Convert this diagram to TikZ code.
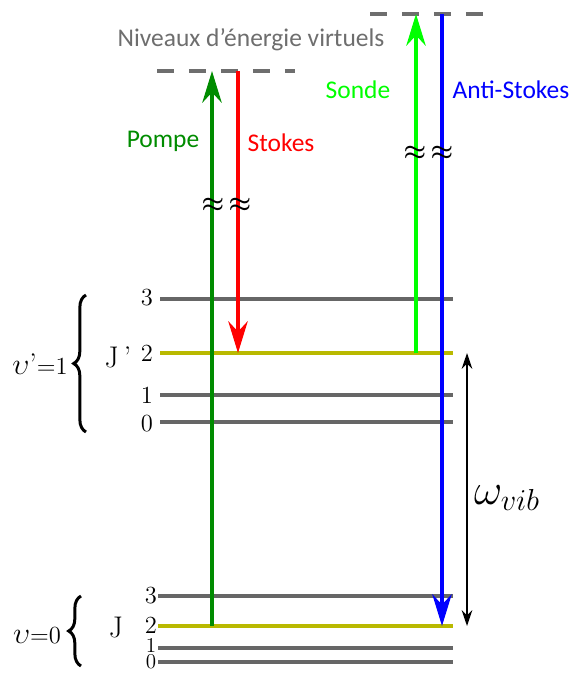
\documentclass[tikz,border=0pt]{standalone}
\usepackage{fontspec}
\setsansfont{Carlito}
\usetikzlibrary{arrows.meta,decorations.pathreplacing}
\definecolor{lvlgray}{RGB}{102,102,102}
\definecolor{lvlyellow}{RGB}{185,185,0}
\definecolor{pumpgreen}{RGB}{0,140,0}
\definecolor{probegreen}{RGB}{0,255,0}
\definecolor{vgray}{RGB}{110,110,110}
\tikzset{
  lvl/.style={line width=2.3pt, lvlgray},
  lvlhi/.style={line width=2.3pt, lvlyellow},
  virt/.style={line width=2.3pt, vgray, dash pattern=on 9.6pt off 8.6pt},
  beam/.style={line width=2.3pt, -{Stealth[length=18pt,width=11pt]}},
  lab/.style={font=\sffamily\fontsize{14.5}{16}\selectfont, inner sep=0pt},
  num/.style={font=\fontsize{14}{16}\selectfont, inner sep=0pt},
  smallnum/.style={font=\fontsize{12}{13}\selectfont, inner sep=0pt},
  brk/.style={font=\fontsize{13.5}{14}\selectfont\boldmath, inner sep=0pt},
  bigtxt/.style={inner sep=0pt, font=\fontsize{17}{19}\selectfont},
  curly/.style={decorate, decoration={brace, amplitude=7pt, aspect=0.5}, line width=1.7pt},
}
\begin{document}
\begin{tikzpicture}[x=0.02cm,y=-0.02cm]
\useasboundingbox (0,0) rectangle (571,673);
% level coordinates
\coordinate (u3a) at (160,299); \coordinate (u3b) at (453,299);
\coordinate (u2a) at (160,353); \coordinate (u2b) at (453,353);
\coordinate (u1a) at (160,395); \coordinate (u1b) at (453,395);
\coordinate (u0a) at (160,422); \coordinate (u0b) at (453,422);
\coordinate (l3a) at (158,596); \coordinate (l3b) at (453,596);
\coordinate (l2a) at (158,626); \coordinate (l2b) at (453,626);
\coordinate (l1a) at (158,648); \coordinate (l1b) at (453,648);
\coordinate (l0a) at (158,662); \coordinate (l0b) at (453,662);
\coordinate (v1a) at (157,71); \coordinate (v1b) at (295,71);
\coordinate (v2a) at (370,14); \coordinate (v2b) at (484,14);
% levels
\draw[lvl] (u3a) -- (u3b);
\draw[lvlhi] (u2a) -- (u2b);
\draw[lvl] (u1a) -- (u1b);
\draw[lvl] (u0a) -- (u0b);
\draw[lvl] (l3a) -- (l3b);
\draw[lvlhi] (l2a) -- (l2b);
\draw[lvl] (l1a) -- (l1b);
\draw[lvl] (l0a) -- (l0b);
\draw[virt] (v1a) -- (v1b);
\draw[virt] (v2a) -- (v2b);
% level labels
\node[num] (n3u) at (147,298) {3};
\node[num] (n2u) at (147,353) {2};
\node[num] (n1u) at (147,395) {1};
\node[num] (n0u) at (147,424) {0};
\node[num] (n3l) at (151,596) {3};
\node[num] (n2l) at (151,625) {2};
\node[smallnum] (n1l) at (151,645) {1};
\node[smallnum] (n0l) at (151,662) {0};
\node[bigtxt] (Jp) at (118,357) {J\,'};
\node[bigtxt] (J) at (116,628) {J};
\node[bigtxt] (vp) at (40,364) {$\upsilon$'{\fontsize{14}{15}\selectfont=1}};
\node[bigtxt] (v0) at (37,636) {$\upsilon${\fontsize{14}{15}\selectfont=0}};
% braces
\coordinate (bu1) at (86,432); \coordinate (bu2) at (86,295);
\coordinate (bl1) at (81,666); \coordinate (bl2) at (81,596);
\draw[curly] (bu1) -- (bu2);
\draw[curly] (bl1) -- (bl2);
% beams
\coordinate (pb) at (212,626); \coordinate (pt) at (212,71);
\coordinate (st) at (238,71); \coordinate (sb) at (238,353);
\coordinate (ob) at (416,353); \coordinate (ot) at (416,14);
\coordinate (at) at (442,14); \coordinate (ab) at (442,626);
\draw[beam, pumpgreen] (pb) -- (pt);
\draw[beam, red] (st) -- (sb);
\draw[beam, probegreen] (ob) -- (ot);
\draw[beam, blue] (at) -- (ab);
% vibration arrow
\coordinate (wt) at (467,353); \coordinate (wb) at (467,626);
\draw[line width=1pt, {Stealth[length=9pt,width=6pt]}-{Stealth[length=9pt,width=6pt]}] (wt) -- (wb);
\node[inner sep=0pt, font=\fontsize{23}{25}\selectfont] (w) at (507,498) {$\omega_{vib}$};
% breaks
\node[brk] (b1) at (213,205) {$\approx$};
\node[brk] (b2) at (240,205) {$\approx$};
\node[brk] (b3) at (415,153) {$\approx$};
\node[brk] (b4) at (442,153) {$\approx$};
% labels
\node[lab, vgray] (virtlab) at (251,40) {Niveaux d'énergie virtuels};
\node[lab, pumpgreen] (pompe) at (163,141) {Pompe};
\node[lab, red] (stokes) at (281,143) {Stokes};
\node[lab, probegreen] (sonde) at (358,90) {Sonde};
\node[lab, blue] (anti) at (511,90) {Anti-Stokes};
\end{tikzpicture}
\end{document}
